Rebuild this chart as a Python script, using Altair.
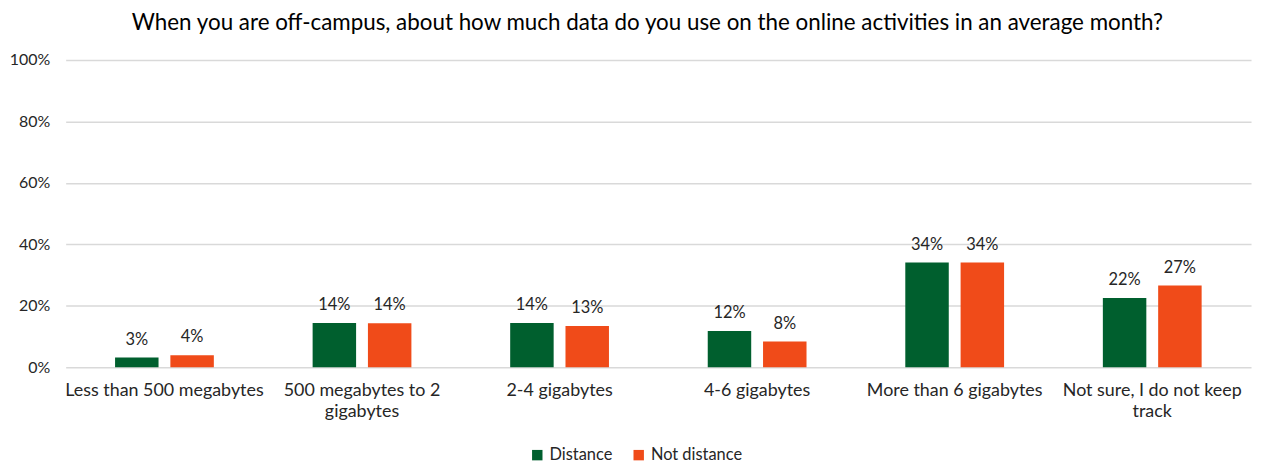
import altair as alt
import pandas as pd

categories = [
    "Less than 500 megabytes",
    "500 megabytes to 2 gigabytes",
    "2-4 gigabytes",
    "4-6 gigabytes",
    "More than 6 gigabytes",
    "Not sure, I do not keep track",
]
series = ["Distance", "Not distance"]
distance = [3.2, 14.4, 14.4, 11.8, 34.1, 22.5]
not_distance = [3.9, 14.3, 13.4, 8.4, 34.1, 26.6]
distance_labels = ["3%", "14%", "14%", "12%", "34%", "22%"]
not_distance_labels = ["4%", "14%", "13%", "8%", "34%", "27%"]
wrapped = {
    "500 megabytes to 2 gigabytes": ["500 megabytes to 2", "gigabytes"],
    "Not sure, I do not keep track": ["Not sure, I do not keep", "track"],
}
colors = ["#005F2E", "#F04B19"]
title = "When you are off-campus, about how much data do you use on the online activities in an average month?"

rows = []
for c, v, l in zip(categories, distance, distance_labels):
    rows.append({"category": c, "series": series[0], "value": v, "label": l})
for c, v, l in zip(categories, not_distance, not_distance_labels):
    rows.append({"category": c, "series": series[1], "value": v, "label": l})
df = pd.DataFrame(rows)

expr = "datum.label"
for k, parts in reversed(list(wrapped.items())):
    arr = "[" + ",".join("'" + p + "'" for p in parts) + "]"
    expr = f"datum.value == '{k}' ? {arr} : ({expr})"

FONT = "Lato"
TXT = "#262626"

x = alt.X(
    "category:N",
    sort=categories,
    scale=alt.Scale(paddingInner=0.5, paddingOuter=0.25),
    axis=alt.Axis(
        title=None, labelAngle=0, labelExpr=expr, domain=False, ticks=False,
        labelFontSize=18, labelColor=TXT, labelFont=FONT, labelPadding=14,
        labelLimit=400, labelLineHeight=22, labelBaseline="top",
    ),
)
xo = alt.XOffset("series:N", sort=series, scale=alt.Scale(paddingInner=0.214))

bars = alt.Chart(df).mark_bar().encode(
    x=x,
    xOffset=xo,
    y=alt.Y(
        "value:Q",
        scale=alt.Scale(domain=[0, 100]),
        axis=alt.Axis(
            title=None, values=[0, 20, 40, 60, 80, 100], labelExpr="datum.value + '%'",
            domain=False, ticks=False, gridColor="#d9d9d9", gridWidth=1.5,
            labelFontSize=16, labelColor=TXT, labelFont=FONT, labelPadding=16,
        ),
    ),
    color=alt.Color(
        "series:N", sort=series, scale=alt.Scale(domain=series, range=colors),
        legend=alt.Legend(
            title=None, orient="none", legendX=466, legendY=389, direction="horizontal",
            symbolType="square", symbolSize=110, symbolStrokeWidth=0,
            labelFontSize=16.5, labelFont=FONT, labelColor=TXT, columnPadding=18,
            symbolOffset=0, labelOffset=4,
        ),
    ),
)

texts = alt.Chart(df).mark_text(
    baseline="bottom", dy=-10, fontSize=16.5, font=FONT, color=TXT
).encode(
    x=alt.X("category:N", sort=categories),
    xOffset=alt.XOffset("series:N", sort=series),
    y=alt.Y("value:Q"),
    text="label:N",
)

chart = (
    alt.layer(bars, texts)
    .properties(
        width=1192, height=309,
        title=alt.TitleParams(title, fontSize=22.5, font=FONT, color="#000000",
                              fontWeight="normal", offset=18, dx=-11),
        autosize=alt.AutoSizeParams(type="none"),
        padding={"left": 58, "top": 51, "right": 4, "bottom": 95},
    )
    .configure_view(stroke=None)
)

chart.save("out.html", embed_options={"renderer": "svg", "actions": False})
